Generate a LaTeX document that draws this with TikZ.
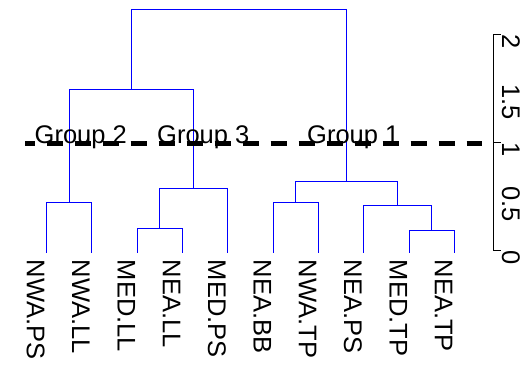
\documentclass[tikz,border=0pt]{standalone}
\usepackage{fontspec}
\setmainfont{Liberation Sans}
\definecolor{branchblue}{RGB}{0,0,255}
\begin{document}
\begin{tikzpicture}[x=1pt,y=-1pt,
  branch/.style={draw=branchblue, line width=1pt},
  lbl/.style={inner sep=0pt, font=\fontsize{25.5}{30}\selectfont},
  leaflabel/.style={lbl, rotate=-90, anchor=base west},
  axlabel/.style={lbl, rotate=-90, anchor=base west},
  grouplabel/.style={lbl, anchor=base},
  cutline/.style={line width=4.5pt, dash pattern=on 16pt off 12pt, dash phase=6.3pt},
  axisline/.style={line width=1.1pt, line cap=rect}]
\useasboundingbox (0,0) rectangle (530,366);
% leaves
\coordinate (L1) at (46.5,252.5);
\coordinate (L2) at (91.5,252.5);
\coordinate (L3) at (137.5,252.5);
\coordinate (L4) at (182.5,252.5);
\coordinate (L5) at (227.5,252.5);
\coordinate (L6) at (273.5,252.5);
\coordinate (L7) at (318.5,252.5);
\coordinate (L8) at (363.5,252.5);
\coordinate (L9) at (409.5,252.5);
\coordinate (L10) at (454.5,252.5);
% merges
\coordinate (ma) at (69.5,202.5);
\coordinate (mb) at (159.5,228.5);
\coordinate (mc) at (193.5,188.5);
\coordinate (md) at (131.5,89.5);
\coordinate (me) at (295.5,202.5);
\coordinate (mf) at (431.5,230.5);
\coordinate (mg) at (397.5,205.5);
\coordinate (mh) at (346.5,181.5);
\coordinate (mt) at (239.5,9.5);
% branches
\draw[branch] (L1) |- (ma) -| (L2);
\draw[branch] (L3) |- (mb) -| (L4);
\draw[branch] (mb) |- (mc) -| (L5);
\draw[branch] (ma) |- (md) -| (mc);
\draw[branch] (L6) |- (me) -| (L7);
\draw[branch] (L9) |- (mf) -| (L10);
\draw[branch] (L8) |- (mg) -| (mf);
\draw[branch] (me) |- (mh) -| (mg);
\draw[branch] (md) |- (mt) -| (mh);
% leaf labels
\node[leaflabel] (t1) at (26.8,259.6) {NWA.PS};
\node[leaflabel] (t2) at (72.1,259.6) {NWA.LL};
\node[leaflabel] (t3) at (117.5,259.6) {MED.LL};
\node[leaflabel] (t4) at (162.8,259.6) {NEA.LL};
\node[leaflabel] (t5) at (208.1,259.6) {MED.PS};
\node[leaflabel] (t6) at (253.5,259.6) {NEA.BB};
\node[leaflabel] (t7) at (298.8,259.6) {NWA.TP};
\node[leaflabel] (t8) at (344.1,259.6) {NEA.PS};
\node[leaflabel] (t9) at (389.5,259.6) {MED.TP};
\node[leaflabel] (t10) at (434.8,259.6) {NEA.TP};
% cut line
\coordinate (cl) at (25,143.3);
\coordinate (cr) at (482,143.3);
\draw[cutline] (cl) -- (cr);
% group labels
\node[grouplabel] (g2) at (80.8,144) {Group 2};
\node[grouplabel] (g3) at (203.3,144) {Group 3};
\node[grouplabel] (g1) at (353.3,144) {Group 1};
% axis
\coordinate (a2) at (493.5,34.5);
\coordinate (a1) at (493.5,142.5);
\coordinate (a0) at (493.5,250.5);
\coordinate (k2) at (500,34.5);
\coordinate (k1) at (500,142.5);
\coordinate (k0) at (500,250.5);
\draw[axisline] (k2) -- (a2) -- (a0) -- (k0);
\draw[axisline] (a1) -- (k1);
\node[axlabel] (n2) at (502,34) {2};
\node[axlabel] (n15) at (502,84) {1.5};
\node[axlabel] (n1) at (502,142) {1};
\node[axlabel] (n05) at (502,186.5) {0.5};
\node[axlabel] (n0) at (502,250) {0};
\end{tikzpicture}
\end{document}
